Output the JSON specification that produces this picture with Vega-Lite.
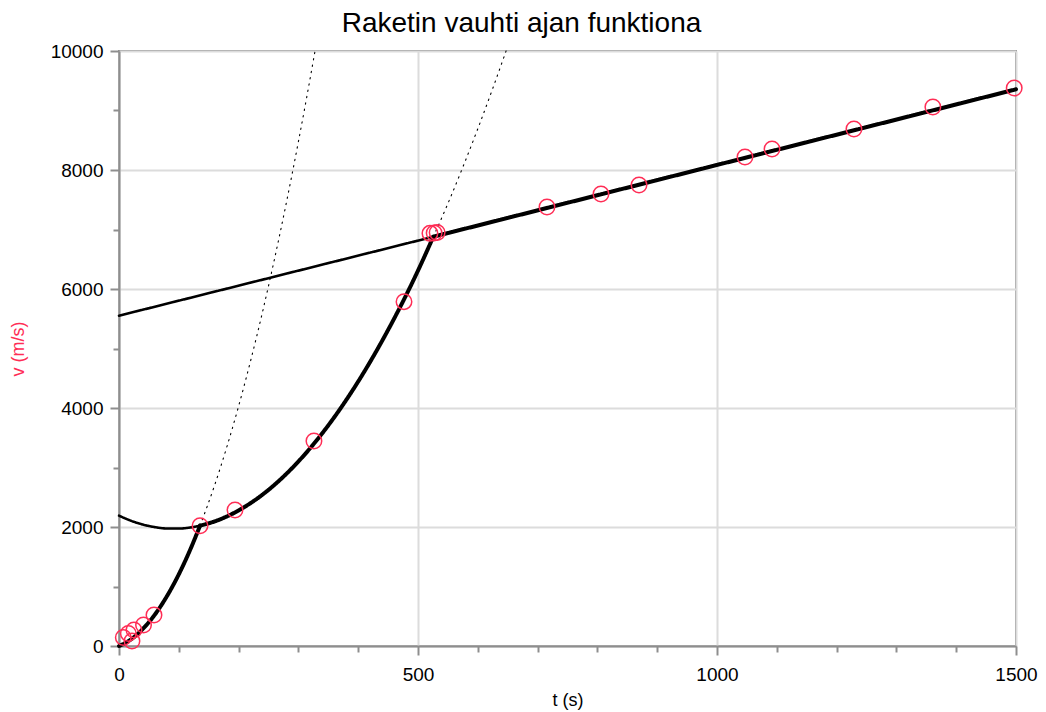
{
  "$schema": "https://vega.github.io/schema/vega-lite/v6.json",
  "width": 897,
  "height": 595,
  "autosize": {"type": "none"},
  "padding": {"left": 119, "top": 51, "right": 30, "bottom": 66},
  "background": "white",
  "config": {"font": "Liberation Sans", "view": {"stroke": "#8e8e8e", "strokeWidth": 2}},
  "title": {"text": "Raketin vauhti ajan funktiona", "fontSize": 28, "fontWeight": "normal", "color": "black", "anchor": "middle", "frame": "group", "dx": -46, "offset": 4},
  "datasets": {
    "pts": [
      {"t": 7.2, "v": 143}, {"t": 15.6, "v": 210}, {"t": 21.7, "v": 84}, {"t": 25, "v": 269},
      {"t": 41, "v": 353}, {"t": 58.5, "v": 521}, {"t": 135.5, "v": 2022}, {"t": 194, "v": 2286},
      {"t": 326, "v": 3445}, {"t": 476.6, "v": 5787}, {"t": 520, "v": 6935}, {"t": 527, "v": 6940},
      {"t": 532, "v": 6950}, {"t": 715.7, "v": 7378}, {"t": 806, "v": 7597}, {"t": 869.6, "v": 7748},
      {"t": 1046.8, "v": 8218}, {"t": 1092, "v": 8353}, {"t": 1229, "v": 8689}, {"t": 1361, "v": 9059},
      {"t": 1497, "v": 9378}
    ],
    "fit": [
      {"seg": "a1", "sty": "thick", "t": 0, "v": 0},
      {"seg": "a1", "sty": "thick", "t": 15, "v": 77},
      {"seg": "a1", "sty": "thick", "t": 30, "v": 191},
      {"seg": "a1", "sty": "thick", "t": 45, "v": 342},
      {"seg": "a1", "sty": "thick", "t": 60, "v": 528},
      {"seg": "a1", "sty": "thick", "t": 75, "v": 752},
      {"seg": "a1", "sty": "thick", "t": 90, "v": 1011},
      {"seg": "a1", "sty": "thick", "t": 105, "v": 1307},
      {"seg": "a1", "sty": "thick", "t": 120, "v": 1640},
      {"seg": "a1", "sty": "thick", "t": 135.5, "v": 2022},
      {"seg": "a2", "sty": "dotted", "t": 135.5, "v": 2022},
      {"seg": "a2", "sty": "dotted", "t": 160, "v": 2705},
      {"seg": "a2", "sty": "dotted", "t": 180, "v": 3335},
      {"seg": "a2", "sty": "dotted", "t": 200, "v": 4030},
      {"seg": "a2", "sty": "dotted", "t": 220, "v": 4790},
      {"seg": "a2", "sty": "dotted", "t": 240, "v": 5614},
      {"seg": "a2", "sty": "dotted", "t": 260, "v": 6503},
      {"seg": "a2", "sty": "dotted", "t": 280, "v": 7457},
      {"seg": "a2", "sty": "dotted", "t": 300, "v": 8476},
      {"seg": "a2", "sty": "dotted", "t": 315, "v": 9283},
      {"seg": "a2", "sty": "dotted", "t": 327.8, "v": 10000},
      {"seg": "b0", "sty": "thin", "t": 0, "v": 2190},
      {"seg": "b0", "sty": "thin", "t": 20, "v": 2105},
      {"seg": "b0", "sty": "thin", "t": 40, "v": 2041},
      {"seg": "b0", "sty": "thin", "t": 60, "v": 1998},
      {"seg": "b0", "sty": "thin", "t": 80, "v": 1975},
      {"seg": "b0", "sty": "thin", "t": 100, "v": 1974},
      {"seg": "b0", "sty": "thin", "t": 120, "v": 1993},
      {"seg": "b0", "sty": "thin", "t": 135.5, "v": 2022},
      {"seg": "b1", "sty": "thick", "t": 135.5, "v": 2022},
      {"seg": "b1", "sty": "thick", "t": 160, "v": 2094},
      {"seg": "b1", "sty": "thick", "t": 200, "v": 2278},
      {"seg": "b1", "sty": "thick", "t": 250, "v": 2624},
      {"seg": "b1", "sty": "thick", "t": 300, "v": 3101},
      {"seg": "b1", "sty": "thick", "t": 350, "v": 3708},
      {"seg": "b1", "sty": "thick", "t": 400, "v": 4445},
      {"seg": "b1", "sty": "thick", "t": 450, "v": 5312},
      {"seg": "b1", "sty": "thick", "t": 500, "v": 6309},
      {"seg": "b1", "sty": "thick", "t": 525.6, "v": 6878},
      {"seg": "b2", "sty": "dotted", "t": 525.6, "v": 6878},
      {"seg": "b2", "sty": "dotted", "t": 550, "v": 7436},
      {"seg": "b2", "sty": "dotted", "t": 575, "v": 8049},
      {"seg": "b2", "sty": "dotted", "t": 600, "v": 8693},
      {"seg": "b2", "sty": "dotted", "t": 625, "v": 9371},
      {"seg": "b2", "sty": "dotted", "t": 647.3, "v": 10000},
      {"seg": "c0", "sty": "thin", "t": 0, "v": 5551},
      {"seg": "c0", "sty": "thin", "t": 525.6, "v": 6878},
      {"seg": "c1", "sty": "thick", "t": 525.6, "v": 6878},
      {"seg": "c1", "sty": "thick", "t": 1500, "v": 9356}
    ]
  },
  "encoding": {
    "x": {
      "field": "t", "type": "quantitative",
      "scale": {"domain": [0, 1500], "nice": false, "zero": false},
      "axis": {
        "title": "t (s)",
        "values": [0, 100, 200, 300, 400, 500, 600, 700, 800, 900, 1000, 1100, 1200, 1300, 1400, 1500],
        "format": "d",
        "labelExpr": "datum.value % 500 === 0 ? datum.label : ''",
        "labelFlush": false,
        "labelOverlap": false,
        "tickSize": {"condition": {"test": "datum.value % 500 === 0", "value": 9}, "value": 6},
        "gridOpacity": {"condition": {"test": "datum.value % 500 === 0", "value": 1}, "value": 0},
        "gridColor": "#dcdcdc", "gridWidth": 2,
        "domainColor": "#8e8e8e", "domainWidth": 2,
        "tickColor": "#8e8e8e", "tickWidth": 2,
        "labelFontSize": 19, "labelColor": "black", "labelPadding": 10,
        "titleFontSize": 18, "titleFontWeight": "normal", "titleColor": "black",
        "titleY": 54, "titleBaseline": "middle"
      }
    },
    "y": {
      "field": "v", "type": "quantitative",
      "scale": {"domain": [0, 10000], "nice": false},
      "axis": {
        "title": "v (m/s)",
        "values": [0, 1000, 2000, 3000, 4000, 5000, 6000, 7000, 8000, 9000, 10000],
        "format": "d",
        "labelExpr": "datum.value % 2000 === 0 ? datum.label : ''",
        "labelOverlap": false,
        "tickSize": {"condition": {"test": "datum.value % 2000 === 0", "value": 9}, "value": 6},
        "gridOpacity": {"condition": {"test": "datum.value % 2000 === 0", "value": 1}, "value": 0},
        "gridColor": "#dcdcdc", "gridWidth": 2,
        "domainColor": "#8e8e8e", "domainWidth": 2,
        "tickColor": "#8e8e8e", "tickWidth": 2,
        "labelFontSize": 19, "labelColor": "black", "labelPadding": 7,
        "titleFontSize": 18, "titleFontWeight": "normal", "titleColor": "#ff2d55",
        "titleX": -101, "titleY": 297.5, "titleAlign": "center", "titleBaseline": "middle"
      }
    }
  },
  "layer": [
    {
      "data": {"name": "fit"},
      "mark": {"type": "line", "interpolate": "monotone", "color": "black", "strokeCap": "round"},
      "encoding": {
        "detail": {"field": "seg", "type": "nominal"},
        "strokeWidth": {"field": "sty", "type": "ordinal", "scale": {"domain": ["thick", "thin", "dotted"], "range": [4, 1.1, 1.4]}, "legend": null},
        "strokeDash": {"field": "sty", "type": "nominal", "scale": {"domain": ["thick", "thin", "dotted"], "range": [[1, 0], [1, 0], [1.4, 5]]}, "legend": null}
      }
    },
    {
      "data": {"name": "pts"},
      "mark": {"type": "point", "shape": "circle", "filled": false, "color": "#ff2d55", "size": 240, "strokeWidth": 1.5, "opacity": 1}
    }
  ]
}
